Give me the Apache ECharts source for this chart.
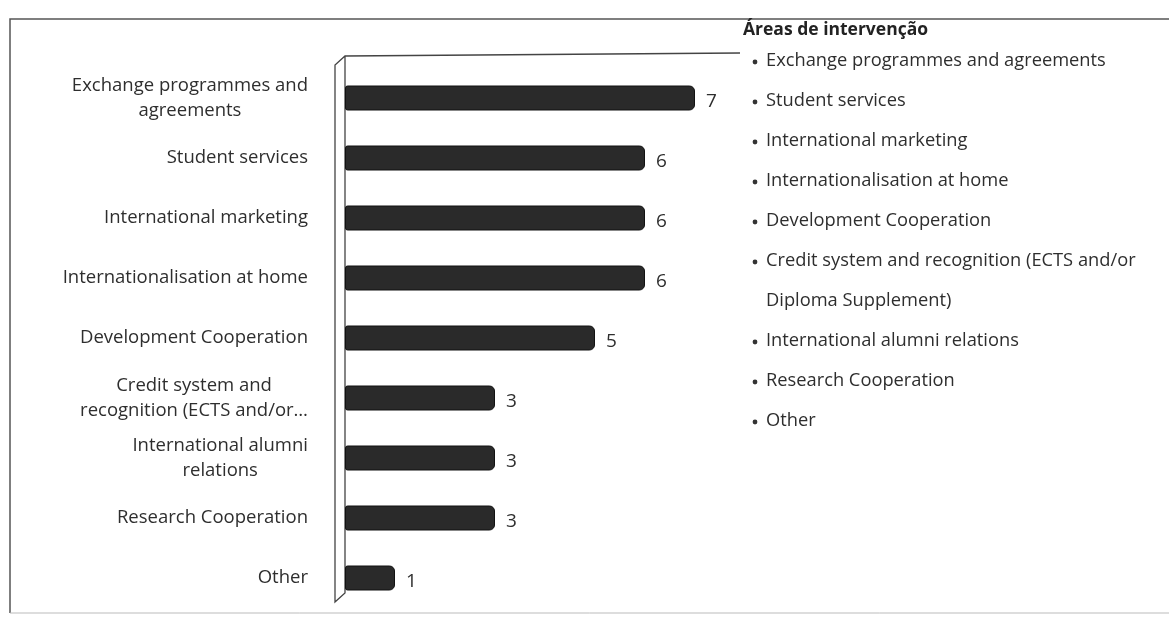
<!DOCTYPE html>
<html>
<head>
<meta charset="utf-8">
<script src="https://cdn.jsdelivr.net/npm/echarts@6/dist/echarts.min.js"></script>
<style>
html,body{margin:0;padding:0;background:#fff;}
#chart{width:1169px;height:617px;}
</style>
</head>
<body>
<div id="chart"></div>
<script>
const legendTitle = 'Áreas de intervenção';
const categories = [
  'Exchange programmes and agreements',
  'Student services',
  'International marketing',
  'Internationalisation at home',
  'Development Cooperation',
  'Credit system and recognition (ECTS and/or Diploma Supplement)',
  'International alumni relations',
  'Research Cooperation',
  'Other'
];
const axisLabels = [
  'Exchange programmes and\nagreements',
  'Student services',
  'International marketing',
  'Internationalisation at home',
  'Development Cooperation',
  'Credit system and\nrecognition (ECTS and/or…',
  'International alumni\nrelations',
  'Research Cooperation',
  'Other'
];
const values = [7, 6, 6, 6, 5, 3, 3, 3, 1];

const FONT = '"Open Sans", Lato, sans-serif';
const TXT = '#2e2e2e';

function wrap(s, maxChars) {
  const words = s.split(' ');
  const lines = [];
  let cur = '';
  words.forEach(w => {
    const t = cur ? cur + ' ' + w : w;
    if (t.length > maxChars && cur) { lines.push(cur); cur = w; } else { cur = t; }
  });
  if (cur) lines.push(cur);
  return lines;
}

const chart = echarts.init(document.getElementById('chart'), null, {renderer: 'canvas'});

const graphics = [];
// outer frame
graphics.push({type: 'polyline', shape: {points: [[10, 613], [10, 19], [1169, 19]]}, style: {stroke: '#555', lineWidth: 1.5, fill: null}, silent: true});
graphics.push({type: 'line', shape: {x1: 10, y1: 613, x2: 1169, y2: 613}, style: {stroke: '#bbb', lineWidth: 1}, silent: true});
// 3D wall
graphics.push({type: 'polyline', shape: {points: [[740, 53], [345, 56], [335, 65], [335, 602], [345, 593], [345, 56]]}, style: {stroke: '#444', lineWidth: 1.3, fill: null}, silent: true});
// legend title
graphics.push({type: 'text', x: 743, y: 30, style: {text: legendTitle, font: 'bold 17.5px ' + FONT, fill: '#222', verticalAlign: 'middle'}, silent: true});
let line = 0;
categories.forEach(c => {
  const ls = wrap(c, 43);
  graphics.push({type: 'circle', shape: {cx: 755, cy: 62 + line * 40, r: 2.4}, style: {fill: '#333'}, silent: true});
  ls.forEach(l => {
    graphics.push({type: 'text', x: 766, y: 61 + line * 40, style: {text: l, font: '18.3px ' + FONT, fill: TXT, verticalAlign: 'middle'}, silent: true});
    line++;
  });
});

chart.setOption({
  animation: false,
  backgroundColor: '#fff',
  grid: {left: 345, top: 68, width: 400, height: 540},
  xAxis: {type: 'value', min: 0, max: 8, show: false},
  yAxis: {
    type: 'category', inverse: true, data: axisLabels,
    axisLine: {show: false}, axisTick: {show: false},
    axisLabel: {
      margin: 37, align: 'right',
      formatter: v => v.split('\n').map(s => '{c|' + s + '}').join('\n'),
      rich: {c: {align: 'center', fontFamily: FONT, fontSize: 18.5, color: TXT, lineHeight: 25}}
    }
  },
  series: [{
    type: 'bar', data: values, barWidth: 25,
    itemStyle: {color: '#2a2a2a', borderColor: '#111', borderWidth: 1, borderRadius: [2, 5, 5, 2]},
    label: {show: true, position: 'right', distance: 11, fontFamily: FONT, fontSize: 19, color: TXT, offset: [0, 4]}
  }],
  graphic: graphics
});
</script>
</body>
</html>
